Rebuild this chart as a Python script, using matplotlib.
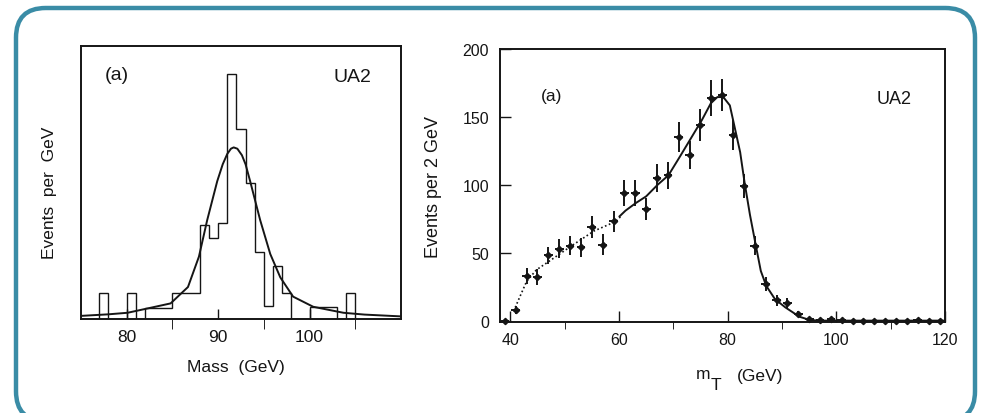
import numpy as np
import matplotlib
matplotlib.use("Agg")
import matplotlib.pyplot as plt
from matplotlib.patches import FancyBboxPatch

plt.rcParams["font.family"] = ["Liberation Sans", "DejaVu Sans"]

INK = "#151515"
FRAME = "#3a8ca6"

# left panel: UA2 Z mass histogram (events per GeV, variable bins)
mass_edges = [75, 77, 78, 80, 81, 82, 85, 88, 89, 90, 91, 92, 93, 94, 95,
              96, 97, 98, 100, 103, 104, 105, 110]
mass_counts = [0, 1.0, 0, 1.0, 0, 0.42, 1.0, 3.63, 3.1, 3.69, 9.42, 7.31,
               5.22, 2.56, 0.49, 2.05, 1.0, 0, 0.45, 0, 1.0, 0]
fit_mass = [75, 78, 80.1, 82.2, 84.8, 86.7, 87.9, 88.8, 89.9, 90.5, 91.0,
            91.4, 91.7, 92.1, 92.6, 93.0, 93.5, 94.6, 95.7, 96.8, 98.2,
            100.4, 103.7, 106, 110]
fit_events = [0.12, 0.18, 0.24, 0.4, 0.6, 1.23, 2.4, 3.8, 5.3, 5.95, 6.35,
              6.55, 6.6, 6.55, 6.3, 5.95, 5.3, 3.8, 2.5, 1.6, 0.86,
              0.47, 0.24, 0.17, 0.1]

# right panel: transverse mass, events per 2 GeV
mt = [39, 41, 43, 45, 47, 49, 51, 53, 55, 57, 59, 61, 63, 65, 67, 69, 71,
      73, 75, 77, 79, 81, 83, 85, 87, 89, 91, 93, 95, 97, 99, 101, 103,
      105, 107, 109, 111, 113, 115, 117, 119]
mt_events = [0, 8, 33, 32, 48, 53, 55, 54, 69, 56, 73, 94, 94, 82, 105, 107,
             135, 122, 144, 164, 166, 137, 99, 55, 27, 15, 13, 5, 1, 0.5, 1,
             0.5, 0, 0, 0, 0, 0, 0, 0.5, 0, 0]
mt_err = [0, 3, 6, 6, 6.5, 7, 7, 7, 8, 7.5, 8, 9.5, 9.5, 8, 10, 10, 11, 10,
          11.5, 13, 12, 11, 9, 7, 5, 4, 4, 2, 1, 1, 1, 1, 0, 0, 0, 0, 0, 0,
          1, 0, 0]
bg_mt = [40.6, 41.8, 43.0, 44.8, 47.5, 51.5, 55.4, 59.4, 60.3]
bg_events = [6.9, 18, 28.9, 37.4, 44.7, 55.7, 66, 73, 76.6]
fit_mt = [60.1, 61.2, 63.1, 65.0, 67.1, 69.1, 71.2, 73.2, 75.3, 76.9, 78.1,
          79.2, 80.4, 81.2, 82.3, 83.1, 84.1, 85.2, 86.1, 87.1, 88.7, 90.6,
          93.2, 95.1, 97, 100, 120]
fit_mt_events = [76.8, 81, 86.6, 91.5, 100, 107, 120.7, 134, 148, 160, 164.6,
                 164.6, 158.5, 144, 124, 102, 78, 55, 36.6, 25.6, 15.9, 9.8,
                 2.9, 0.5, 0, 0, 0]

W, H = 990, 414
fig = plt.figure(figsize=(W / 100, H / 100), dpi=100)
fig.patch.set_facecolor("white")


def px_axes(x0, y0, x1, y1):
    # pixel box (top-left origin) -> figure axes
    return fig.add_axes([x0 / W, 1 - y1 / H, (x1 - x0) / W, (y1 - y0) / H])


def style(ax):
    for sp in ax.spines.values():
        sp.set_linewidth(1.4)
        sp.set_color(INK)
    ax.tick_params(direction="in", colors=INK, labelsize=11.5, width=1.0)


# rounded frame, bottom edge just below the picture
frame = FancyBboxPatch((16 / W, -8 / H), 959 / W, 413 / H,
                       boxstyle="round,pad=0,rounding_size=0.03",
                       transform=fig.transFigure, fill=False,
                       edgecolor=FRAME, linewidth=3.2, mutation_aspect=W / H)
fig.patches.append(frame)

# ---- left panel
ax1 = px_axes(81, 47, 401, 320)
style(ax1)
ax1.stairs(mass_counts, mass_edges, color=INK, linewidth=1.0, baseline=0)
ax1.plot(fit_mass, fit_events, color=INK, linewidth=1.4)
ax1.set_xlim(75, 110)
ax1.set_ylim(0, 10.5)
ax1.set_xticks([80, 90, 100])
ax1.set_xticks([85, 95, 105], minor=True)
ax1.tick_params(axis="x", which="both", length=7, pad=7, labelsize=12.5)
ax1.set_yticks([])
ax1.text(0.112, 0.895, "(a)", transform=ax1.transAxes, fontsize=14,
         ha="center", va="center", color=INK)
ax1.text(0.847, 0.888, "UA2", transform=ax1.transAxes, fontsize=14,
         ha="center", va="center", color=INK)
fig.text(236 / W, 1 - 368 / H, "Mass  (GeV)", fontsize=12.5, ha="center",
         va="center", color=INK)
fig.text(50 / W, 1 - 193 / H, "Events  per  GeV", fontsize=12.5,
         rotation=90, ha="center", va="center", color=INK)

# ---- right panel
ax2 = px_axes(500, 50, 945, 323)
style(ax2)
ax2.plot(bg_mt, bg_events, color=INK, linewidth=1.2, linestyle=(0, (1, 1.5)))
ax2.plot(fit_mt, fit_mt_events, color=INK, linewidth=1.4)
ax2.errorbar(mt, mt_events, yerr=mt_err, xerr=0.8, fmt="D", markersize=3.2,
             color=INK, elinewidth=1.4, capsize=0, clip_on=False)
ax2.set_xlim(38.1, 120)
ax2.set_ylim(-1, 200)
ax2.set_xticks([40, 60, 80, 100, 120])
ax2.set_xticks([50, 70, 90, 110], minor=True)
ax2.set_yticks([0, 50, 100, 150, 200])
ax2.tick_params(axis="both", which="major", length=8)
ax2.tick_params(axis="x", which="minor", length=5)
ax2.tick_params(axis="x", which="both", pad=7)
ax2.tick_params(axis="y", pad=8)
ax2.text(0.115, 0.828, "(a)", transform=ax2.transAxes, fontsize=12.5,
         ha="center", va="center", color=INK)
ax2.text(0.885, 0.82, "UA2", transform=ax2.transAxes, fontsize=13,
         ha="center", va="center", color=INK)
fig.text(433 / W, 1 - 187 / H, "Events per 2 GeV", fontsize=13,
         rotation=90, ha="center", va="center", color=INK)
fig.text(703 / W, 1 - 375 / H, "m", fontsize=12.5, ha="center",
         va="center", color=INK)
fig.text(716 / W, 1 - 386 / H, "T", fontsize=12.5, ha="center",
         va="center", color=INK)
fig.text(760 / W, 1 - 377 / H, "(GeV)", fontsize=12.5, ha="center",
         va="center", color=INK)

fig.savefig("out.png", dpi=100, facecolor="white")
